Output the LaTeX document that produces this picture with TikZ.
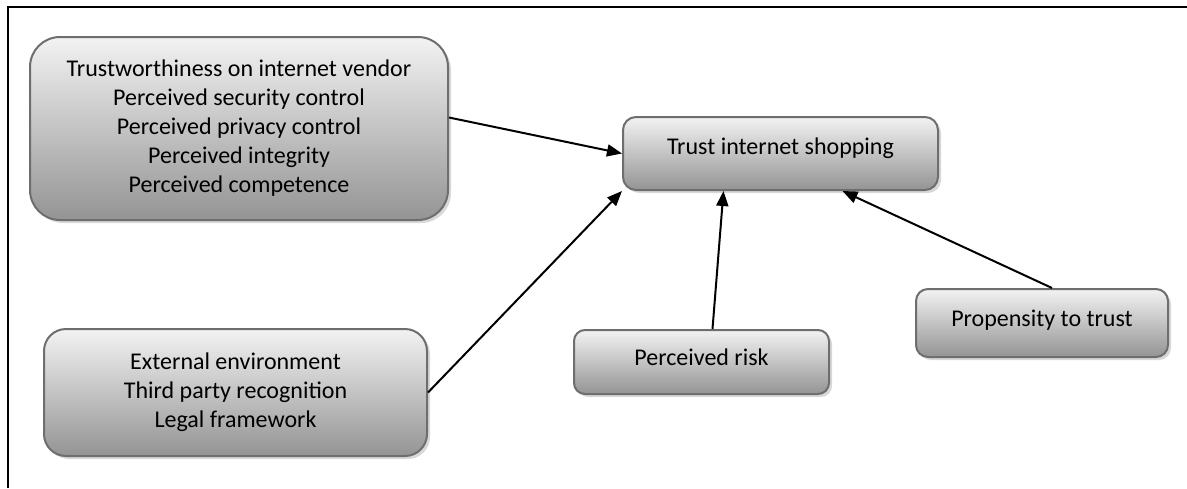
\documentclass[tikz,border=0pt]{standalone}
\usepackage{fontspec}
\setmainfont{Carlito}
\usetikzlibrary{arrows.meta,shadows}
\tikzset{
  factor/.style={draw=black!57, line width=2pt, align=center,
    top color=black!5, bottom color=black!42,
    drop shadow={shadow xshift=3pt, shadow yshift=-3pt, fill=black!30},
    font=\fontsize{24}{29}\selectfont, inner sep=0pt},
  arr/.style={-{Triangle[length=15pt,width=12pt]}, line width=2pt}
}
\begin{document}
\begin{tikzpicture}[x=1pt, y=-1pt]
\useasboundingbox (0,0) rectangle (1187,488);
% frame
\draw[line width=1.5pt] (8,488) -- (8,7) -- (1187,7);
% boxes
\node[factor, rounded corners=30pt, minimum width=418pt, minimum height=183pt] (vendor) at (239,128.5)
  {Trustworthiness on internet vendor\\Perceived security control\\Perceived privacy control\\Perceived integrity\\Perceived competence};
\node[factor, rounded corners=13pt, minimum width=315pt, minimum height=73pt] (shop) at (780.5,153.5)
  {\raisebox{14pt}{Trust internet shopping}};
\node[factor, rounded corners=22pt, minimum width=383pt, minimum height=127pt] (env) at (235.5,392.5)
  {External environment\\Third party recognition\\Legal framework};
\node[factor, rounded corners=11pt, minimum width=255pt, minimum height=64pt] (risk) at (701.5,362)
  {\raisebox{9pt}{Perceived risk}};
\node[factor, rounded corners=12pt, minimum width=252pt, minimum height=68pt] (prop) at (1042,323)
  {\raisebox{9pt}{Propensity to trust}};
% arrows
\draw[arr] ([yshift=11pt]vendor.east) -- (shop.west);
\draw[arr] (env.east) -- (shop.south west);
\draw[arr] ([xshift=11pt]risk.north) -- ([xshift=-57pt]shop.south);
\draw[arr] ([xshift=10pt]prop.north) -- ([xshift=62pt]shop.south);
\end{tikzpicture}
\end{document}
